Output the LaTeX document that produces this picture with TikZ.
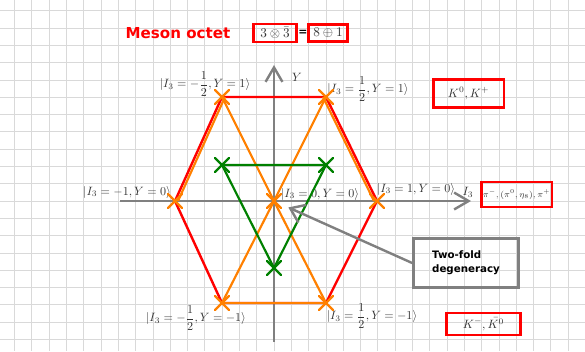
\documentclass[tikz,border=0pt]{standalone}
\usepackage{fontspec}
\setsansfont{DejaVu Sans}
\usetikzlibrary{arrows.meta}
\begin{document}
\begin{tikzpicture}[x=0.02910cm,y=-0.02910cm,
  gridline/.style={gray!30,line width=0.6pt},
  axis/.style={gray,line width=2pt,-{Straight Barb[length=12pt,width=14pt]}},
  lbl/.style={text=black!80,inner sep=0pt,font=\fontsize{10}{12}\selectfont},
  redbox/.style={draw=red,line width=2.2pt,text=black!80,inner sep=0pt},
  redline/.style={red,line width=2pt,line join=round},
  orangeline/.style={orange,line width=1.8pt},
  greenline/.style={green!50!black,line width=1.8pt},
  pointer/.style={gray,line width=2pt,-{Straight Barb[length=11pt,width=16pt]},shorten >=13pt}
]
\useasboundingbox (0,0) rectangle (585,351);
% grid
\foreach \i in {-15,...,17} \draw[gridline] ({274+17.3*\i},0) -- ({274+17.3*\i},351);
\foreach \j in {-11,...,8} \draw[gridline] (0,{201+17.3*\j}) -- (585,{201+17.3*\j});

% coordinates
\coordinate (C) at (274,201);
\coordinate (L) at (175,201);
\coordinate (R) at (377,201);
\coordinate (TL) at (222,97);
\coordinate (TR) at (326,97);
\coordinate (BL) at (222,303);
\coordinate (BR) at (326,303);
\coordinate (Lo) at (178,201);
\coordinate (TLo) at (225,97);
\coordinate (Ro) at (374,201);
\coordinate (TRo) at (323,97);
\coordinate (GL) at (222,165);
\coordinate (GR) at (326,165);
\coordinate (GB) at (274,268);
\coordinate (xs) at (120,201);
\coordinate (xe) at (471,201);
\coordinate (ys) at (274,342);
\coordinate (ye) at (274,65);

% axes
\draw[axis] (xs) -- (xe);
\draw[axis] (ys) -- (ye);
\node[lbl] (xl) at (468,192) {$I_3$};
\node[lbl] (yl) at (297,77) {$Y$};

% state labels
\node[lbl] (lTL) at (205,84) {$|I_3=-\displaystyle\frac{1}{2},Y=1\rangle$};
\node[lbl] (lTR) at (368,89) {$|I_3=\displaystyle\frac{1}{2},Y=1\rangle$};
\node[lbl] (lL) at (127,192) {$|I_3=-1,Y=0\rangle$};
\node[lbl] (lR) at (416,189) {$|I_3=1,Y=0\rangle$};
\node[lbl] (lC) at (320,194) {$|I_3=0,Y=0\rangle$};
\node[lbl] (lBL) at (196,318) {$|I_3=-\displaystyle\frac{1}{2},Y=-1\rangle$};
\node[lbl] (lBR) at (372,316) {$|I_3=\displaystyle\frac{1}{2},Y=-1\rangle$};

% red hexagon
\draw[redline] (L) -- (TL) -- (TR) -- (R) -- (BR) -- (BL) -- cycle;

% orange triangles
\draw[orangeline] (TL) -- (C) -- (BR);
\draw[orangeline] (TR) -- (C) -- (BL);
\draw[orangeline] (BL) -- (BR);
\draw[orangeline] (TLo) -- (Lo);
\draw[orangeline] (TRo) -- (Ro);
\foreach \v in {L,R,TL,TR,BL,BR,C}
  \draw[orangeline,line cap=round] ([shift={(-7,-7)}]\v) -- ([shift={(7,7)}]\v)
                                   ([shift={(-7,7)}]\v) -- ([shift={(7,-7)}]\v);

% green triangle
\draw[greenline,line join=round] (GL) -- (GR) -- (GB) -- cycle;
\foreach \v in {GL,GR,GB}
  \draw[greenline,line cap=round] ([shift={(-7,-7)}]\v) -- ([shift={(7,7)}]\v)
                                  ([shift={(-7,7)}]\v) -- ([shift={(7,-7)}]\v);

% title and boxes
\node[text=red,font=\sffamily\bfseries\fontsize{12.5}{14}\selectfont] (ttl) at (178,33) {Meson octet};
\node[redbox,minimum width=36pt,minimum height=15pt,font=\fontsize{11}{13}\selectfont] (prod) at (275,33) {$3\otimes\bar{3}$};
\node[font=\sffamily\bfseries\fontsize{9}{11}\selectfont,inner sep=0pt] (eq) at (303,33) {=};
\node[redbox,minimum width=32pt,minimum height=14.5pt,font=\fontsize{11}{13}\selectfont] (sum) at (328,33) {$8\oplus1$};

\node[redbox,minimum width=58.5pt,minimum height=23.5pt] (kp) at (468.5,93.5) {$K^0,K^+$};
\node[redbox,minimum width=58.5pt,minimum height=20.5pt,font=\fontsize{7.5}{9}\selectfont] (pi) at (516.5,194.5) {$\pi^-,(\pi^0,\eta_8),\pi^+$};
\node[redbox,minimum width=61.5pt,minimum height=18pt] (km) at (483.5,324) {$K^-,\bar{K^0}$};

\node[draw=gray,line width=2.2pt,minimum width=87pt,minimum height=41pt,align=left,inner sep=0pt,
  font=\sffamily\bfseries\fontsize{8.5}{11.5}\selectfont] (deg) at (466,263) {Two-fold\\degeneracy};

\draw[pointer] (deg.west) -- (C);
\end{tikzpicture}
\end{document}
